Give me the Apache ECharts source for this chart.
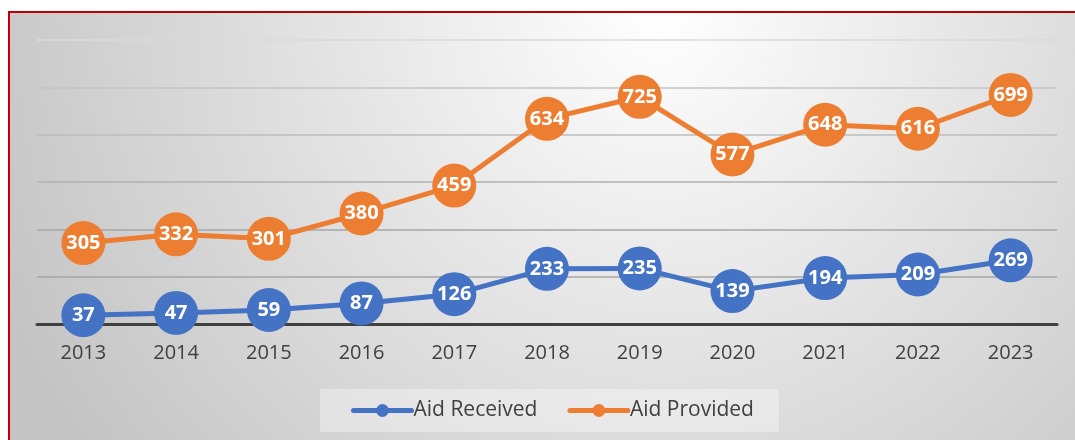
<!DOCTYPE html>
<html>
<head>
<meta charset="utf-8">
<script src="https://cdn.jsdelivr.net/npm/echarts@6/dist/echarts.min.js"></script>
<style>
html, body { margin: 0; padding: 0; background: #fff; }
#main { width: 1075px; height: 440px; }
</style>
</head>
<body>
<div id="main"></div>
<script>
// data
var years = ['2013', '2014', '2015', '2016', '2017', '2018', '2019', '2020', '2021', '2022', '2023'];
var aidReceived = [37, 47, 59, 87, 126, 233, 235, 139, 194, 209, 269];
var aidProvided = [305, 332, 301, 380, 459, 634, 725, 577, 648, 616, 699];

var chart = echarts.init(document.getElementById('main'));

function lineSeries(name, color, values) {
    return {
        name: name,
        type: 'line',
        stack: 'total',
        data: values,
        symbol: 'circle',
        symbolSize: 44,
        z: name == 'Aid Provided' ? 3 : 2,
        lineStyle: { color: color, width: 5 },
        itemStyle: { color: color },
        label: {
            show: true,
            position: 'inside',
            color: '#fff',
            fontFamily: 'Open Sans',
            fontWeight: 'bold',
            fontSize: 20
        },
        emphasis: { disabled: true }
    };
}

var option = {
    animation: false,
    graphic: [
        {
            type: 'rect',
            z: -10,
            silent: true,
            shape: { x: 9, y: 12, width: 1080, height: 440 },
            style: {
                fill: {
                    type: 'radial',
                    x: 660, y: 10, r: 720,
                    global: true,
                    colorStops: [
                        { offset: 0, color: '#ffffff' },
                        { offset: 1, color: '#c4c4c4' }
                    ]
                },
                stroke: '#c00000',
                lineWidth: 2
            }
        }
    ],
    grid: {
        left: 37,
        right: 18,
        top: 40,
        bottom: 116,
        containLabel: false
    },
    legend: {
        bottom: 8,
        left: 320,
        data: ['Aid Received', 'Aid Provided'],
        itemWidth: 58,
        itemHeight: 16,
        itemGap: 30,
        padding: [11, 25, 11, 31],
        backgroundColor: 'rgba(255,255,255,0.35)',
        lineStyle: { width: 5, cap: 'round' },
        textStyle: {
            color: '#404040',
            fontFamily: 'Open Sans',
            fontSize: 21,
            padding: [0, 0, 0, -3]
        }
    },
    xAxis: {
        type: 'category',
        data: years,
        boundaryGap: true,
        axisLine: { lineStyle: { color: '#404040', width: 3 } },
        axisTick: { show: false },
        axisLabel: {
            color: '#404040',
            fontFamily: 'Open Sans',
            fontSize: 20,
            margin: 19
        }
    },
    yAxis: {
        type: 'value',
        min: 0,
        max: 1200,
        interval: 200,
        axisLabel: { show: false },
        axisLine: { show: false },
        axisTick: { show: false },
        splitLine: {
            lineStyle: {
                color: ['#a6a6a6', '#a6a6a6', '#a6a6a6', '#b0b0b0', '#bcbcbc', '#c4c4c4', '#dadada'],
                width: 1.5
            }
        }
    },
    series: [
        lineSeries('Aid Received', '#4472c4', aidReceived),
        lineSeries('Aid Provided', '#ed7d31', aidProvided)
    ]
};

chart.setOption(option);
</script>
</body>
</html>
